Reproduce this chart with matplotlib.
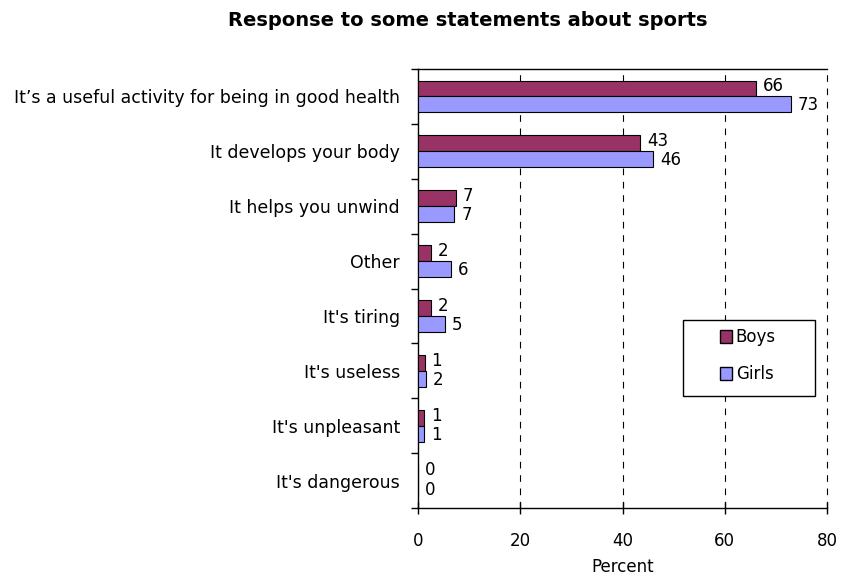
import matplotlib
matplotlib.use("Agg")
import matplotlib.pyplot as plt
import numpy as np
from matplotlib.patches import Patch, Rectangle

plt.rcParams['font.family'] = ['DejaVu Sans']

categories = [
    "It’s a useful activity for being in good health",
    "It develops your body",
    "It helps you unwind",
    "Other",
    "It's tiring",
    "It's useless",
    "It's unpleasant",
    "It's dangerous",
]
boys = [66.1, 43.4, 7.4, 2.6, 2.6, 1.3, 1.2, 0.0]
girls = [72.9, 46.0, 7.1, 6.5, 5.2, 1.6, 1.2, 0.0]
boys_labels = ["66", "43", "7", "2", "2", "1", "1", "0"]
girls_labels = ["73", "46", "7", "6", "5", "2", "1", "0"]
xticks = [0, 20, 40, 60, 80]

boys_color = "#993366"
girls_color = "#9999FF"
FS = 12

fig = plt.figure(figsize=(8.41, 5.79), dpi=100)
ax = fig.add_axes([418/841, 1-508/579, (827-418)/841, (508-69)/579])

y = np.arange(len(categories))
h = 0.29
ax.barh(y - h/2, boys, height=h, color=boys_color, edgecolor="black", linewidth=0.8, zorder=3)
ax.barh(y + h/2, girls, height=h, color=girls_color, edgecolor="black", linewidth=0.8, zorder=3)

for yi, v, lab in zip(y, boys, boys_labels):
    ax.annotate(lab, (v, yi - h/2 - 0.04), xytext=(5, 0), textcoords="offset points",
                va="center", ha="left", fontsize=FS, zorder=4)
for yi, v, lab in zip(y, girls, girls_labels):
    ax.annotate(lab, (v, yi + h/2 + 0.02), xytext=(5, 0), textcoords="offset points",
                va="center", ha="left", fontsize=FS, zorder=4)

ax.set_xlim(0, 80)
ax.set_ylim(len(categories) - 0.5, -0.5)

# Gridlines
for gx in xticks[1:]:
    ax.axvline(gx, color="black", linestyle=(0, (6, 6)), linewidth=0.8, zorder=1, clip_on=False)

ax.spines['right'].set_visible(False)
for s in ['top', 'left', 'bottom']:
    ax.spines[s].set_linewidth(1.0)
    ax.spines[s].set_color("black")

ax.set_xticks(xticks)
ax.set_xticklabels([str(t) for t in xticks], fontsize=FS)
ax.tick_params(axis='x', direction='inout', length=8, width=1, pad=13)

# y: major ticks at boundaries (no labels), minor at centers (labels)
ax.set_yticks(np.arange(-0.5, len(categories) + 0.5, 1.0))
ax.set_yticklabels([])
ax.tick_params(axis='y', which='major', direction='out', length=5, width=1)
ax.set_yticks(y, minor=True)
ax.set_yticklabels(categories, minor=True, fontsize=12.5)
ax.tick_params(axis='y', which='minor', length=0, pad=13)

ax.set_xlabel("Percent", fontsize=FS, labelpad=6)

# Legend frame and entries
lx0, lx1 = (683-418)/409, (815-418)/409
ly0, ly1 = (508-396)/439, (508-320)/439
ax.add_patch(Rectangle((lx0, ly0), lx1-lx0, ly1-ly0, transform=ax.transAxes,
                       facecolor="white", edgecolor="black", linewidth=1.0, zorder=5))
handles = [Patch(facecolor=boys_color, edgecolor="black", label="Boys"),
           Patch(facecolor=girls_color, edgecolor="black", label="Girls")]
leg = ax.legend(handles=handles, loc="center", bbox_to_anchor=((lx0+lx1)/2 - 0.003, (ly0+ly1)/2 + 0.005),
                frameon=False, fontsize=FS, handlelength=0.75, handleheight=0.75,
                handletextpad=0.2, labelspacing=1.15)
leg.set_zorder(6)

fig.text(468/841, 1-20/579, "Response to some statements about sports",
         ha="center", va="center", fontsize=14, fontweight="bold")

fig.savefig("out.png", dpi=100)
